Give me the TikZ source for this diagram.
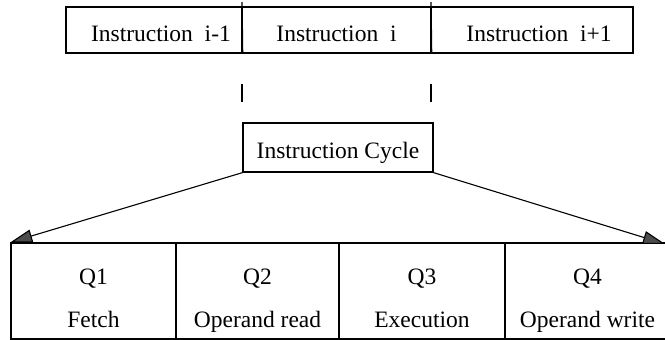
\documentclass[tikz,border=0pt]{standalone}
\usepackage{fontspec}
\setmainfont{Liberation Serif}
\usetikzlibrary{arrows.meta}
% shift a label's ink downwards without changing the size the node sees
\newcommand{\lowered}[2]{\raisebox{-#1}[\height][\depth]{#2}}
\begin{document}
\begin{tikzpicture}[x=1pt,y=-1pt,line width=1.3pt,
  txt/.style={font=\rmfamily\fontsize{23.5}{28}\selectfont},
  topcell/.style={draw, txt, minimum height=46pt, inner sep=0pt},
  cyclebox/.style={draw, txt, minimum width=190pt, minimum height=49pt, inner sep=0pt},
  stagecell/.style={draw, inner sep=0pt, minimum height=96pt,
    font=\rmfamily\fontsize{23.5}{43}\selectfont},
  fan/.style={-{Triangle[length=22pt,width=13pt,fill=black!70]}, line width=1.1pt}]
\useasboundingbox (0,0) rectangle (665,340);

% instruction stream
\node[topcell, minimum width=176pt] (prev) at (154,30) {\hspace{14pt}\lowered{4pt}{Instruction\ \ i-1}};
\node[topcell, minimum width=189pt] (cur)  at (336.5,30) {\lowered{4pt}{Instruction\ \ i}};
\node[topcell, minimum width=202pt] (next) at (532,30) {\hspace{14pt}\lowered{4pt}{Instruction\ \ i+1}};

% boundaries of the current instruction
\coordinate (b1top) at (242,2);
\coordinate (b2top) at (431,2);
\draw (b1top) -- (prev.south east);
\draw (b2top) -- (cur.south east);
\coordinate (t1a) at (242,84); \coordinate (t1b) at (242,102);
\coordinate (t2a) at (431,84); \coordinate (t2b) at (431,102);
\draw (t1a) -- (t1b);
\draw (t2a) -- (t2b);

% instruction cycle
\node[cyclebox] (cycle) at (338,147.5) {\lowered{5pt}{Instruction Cycle}};

% four quarter cycles
\node[stagecell, minimum width=165pt] (q1) at (93.5,291)
  {\lowered{6pt}{\begin{tabular}{@{}c@{}}\strut Q1\\\strut Fetch\end{tabular}}};
\node[stagecell, minimum width=163pt] (q2) at (257.5,291)
  {\lowered{6pt}{\begin{tabular}{@{}c@{}}\strut Q2\\\strut Operand read\end{tabular}}};
\node[stagecell, minimum width=166pt] (q3) at (422,291)
  {\lowered{6pt}{\begin{tabular}{@{}c@{}}\strut Q3\\\strut Execution\end{tabular}}};
\node[stagecell, minimum width=165pt] (q4) at (587.5,291)
  {\lowered{6pt}{\begin{tabular}{@{}c@{}}\strut Q4\\\strut Operand write\end{tabular}}};

% expansion arrows
\coordinate (rtip) at (665,244);
\draw[fan] (cycle.south west) -- (q1.north west);
\draw[fan] (cycle.south east) -- (rtip);
\end{tikzpicture}
\end{document}
